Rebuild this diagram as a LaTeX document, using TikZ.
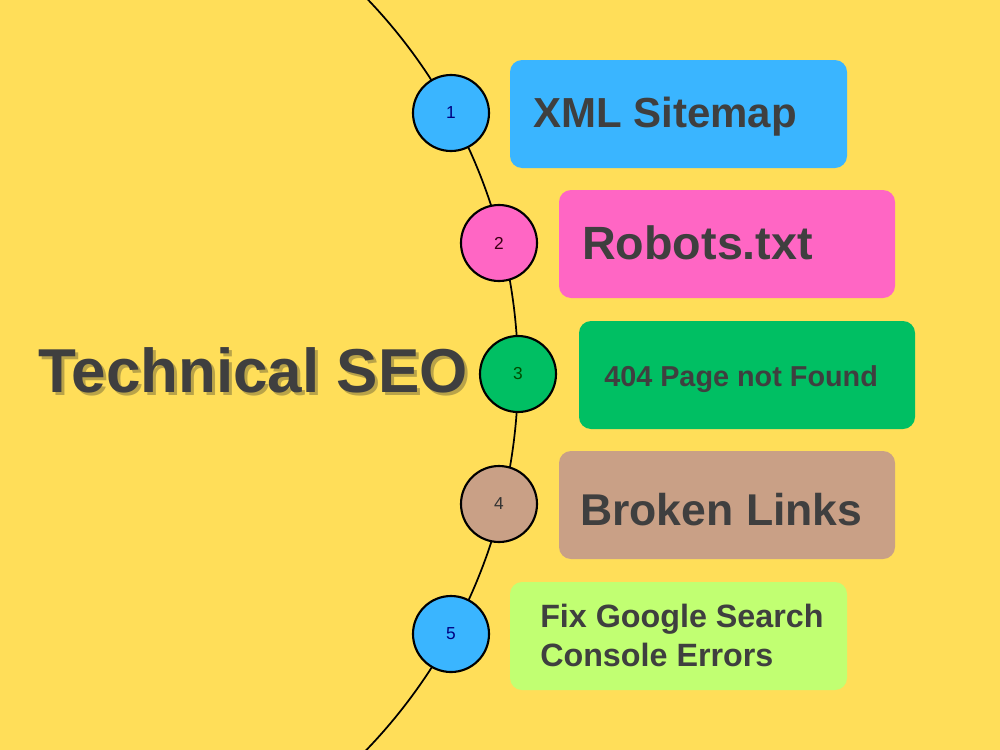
\documentclass[tikz,border=0pt]{standalone}
\usepackage{fontspec}
\setmainfont{Liberation Sans}
\begin{document}
\begin{tikzpicture}[x=0.75pt,y=-0.75pt,
  numdot/.style={circle,draw=black,line width=1.6pt,minimum size=57pt,inner sep=0pt,font=\fontsize{13}{13}\selectfont},
  item/.style={rounded corners=9pt,draw=none},
  itemtext/.style={anchor=base west,inner sep=0pt,text=txtgray,font=\bfseries},
  titletext/.style={anchor=base west,inner sep=0pt,font=\bfseries\fontsize{46.5}{46.5}\selectfont},
]
\definecolor{bgyellow}{HTML}{FFDE59}
\definecolor{txtgray}{HTML}{3F3F3F}
\definecolor{shadowcol}{HTML}{B9A349}
\definecolor{cblue}{HTML}{3AB5FF}
\definecolor{cpink}{HTML}{FF66C4}
\definecolor{cgreen}{HTML}{00BF63}
\definecolor{ctan}{HTML}{C9A086}
\definecolor{clime}{HTML}{C1FF72}
\useasboundingbox (0,0) rectangle (1000,750);
\fill[bgyellow] (0,0) rectangle (1000,750);
% arc
\begin{scope}
\clip (0,0) rectangle (1000,750);
\draw[line width=1.3pt] ([shift={(-24,374)}]-50:542) arc[start angle=-50,end angle=50,radius=542];
\end{scope}
% boxes
\fill[item,cblue] (510,60) rectangle (847,168);
\fill[item,cpink] (559,190) rectangle (895,298);
\fill[item,cgreen] (579,321) rectangle (915,429);
\fill[item,ctan] (559,451) rectangle (895,559);
\fill[item,clime] (510,582) rectangle (847,690);
\node[itemtext,font=\bfseries\fontsize{31.5}{31.5}\selectfont] (t1) at (533,127) {XML Sitemap};
\node[itemtext,font=\bfseries\fontsize{35}{35}\selectfont] (t2) at (582,259) {Robots.txt};
\node[itemtext,font=\bfseries\fontsize{21.6}{21.6}\selectfont] (t3) at (604,386) {404 Page not Found};
\node[itemtext,font=\bfseries\fontsize{33.4}{33.4}\selectfont] (t4) at (580,525) {Broken Links};
\node[itemtext,font=\bfseries\fontsize{24.2}{24.2}\selectfont] (t5a) at (540,627) {Fix Google Search};
\node[itemtext,font=\bfseries\fontsize{24.2}{24.2}\selectfont] (t5b) at (540,666) {Console Errors};
% circles
\node[numdot,fill=cblue,text=blue!50!black] (c1) at (451,113) {1};
\node[numdot,fill=cpink,text=black!70!purple] (c2) at (499,243) {2};
\node[numdot,fill=cgreen,text=black!70!green] (c3) at (518,374) {3};
\node[numdot,fill=ctan,text=black!80] (c4) at (499,504) {4};
\node[numdot,fill=cblue,text=blue!50!black] (c5) at (451,634) {5};
% title with shadow
\node[titletext,text=shadowcol] (titleshadow) at (41,395) {Technical SEO};
\node[titletext,text=txtgray] (title) at (38,392) {Technical SEO};
\end{tikzpicture}
\end{document}
